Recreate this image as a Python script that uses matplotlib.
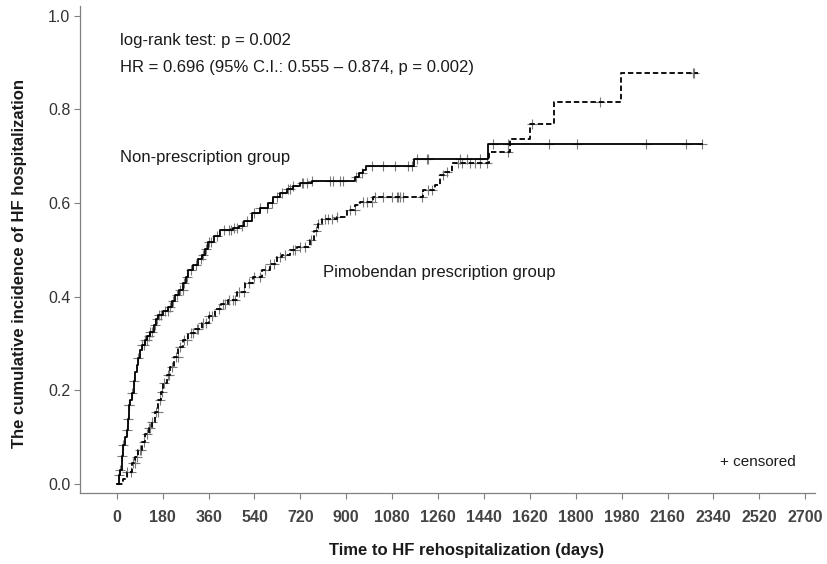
import matplotlib
matplotlib.use("Agg")
import matplotlib.pyplot as plt
import numpy as np

plt.rcParams['font.family'] = ['Liberation Sans', 'DejaVu Sans']

# ---- data ----
non_t = [0, 6, 10, 13, 20, 26, 33, 39, 44, 48, 53, 59, 66, 72, 78, 85, 91, 100, 111, 120, 131,
         145, 155, 163, 180, 203, 215, 229, 245, 261, 270, 281, 300, 318, 333, 345, 359, 380,
         405, 457, 480, 500, 529, 560, 593, 614, 640, 667, 690, 719, 765, 934, 950, 967, 978,
         1165, 1457]
non_v = [0, 0, 0.02, 0.03, 0.06, 0.083, 0.10, 0.115, 0.14, 0.169, 0.18, 0.194, 0.22, 0.24, 0.254,
         0.27, 0.286, 0.297, 0.307, 0.316, 0.325, 0.34, 0.352, 0.361, 0.37, 0.379, 0.392, 0.404,
         0.415, 0.429, 0.443, 0.457, 0.468, 0.48, 0.489, 0.503, 0.517, 0.53, 0.542, 0.546, 0.552,
         0.562, 0.578, 0.59, 0.60, 0.614, 0.622, 0.631, 0.637, 0.642, 0.647, 0.656, 0.664, 0.671,
         0.68, 0.695, 0.726]
non_end = 2296
non_cens = [10, 13, 22, 26, 40, 44, 48, 50, 59, 66, 85, 100, 105, 111, 118, 125, 131, 138, 150,
            158, 165, 172, 190, 200, 210, 222, 235, 250, 258, 265, 275, 290, 310, 330, 340, 350,
            362, 370, 395, 420, 440, 450, 460, 470, 490, 510, 540, 560, 590, 610, 630, 650, 670,
            679, 690, 725, 731, 745, 765, 836, 847, 876, 889, 940, 960, 1000, 1045, 1091, 1143,
            1157, 1176, 1216, 1222, 1346, 1372, 1425, 1477, 1536, 1695, 1804, 2074, 2231, 2296]

pim_t = [0, 13, 25, 40, 59, 72, 85, 98, 111, 125, 137, 150, 163, 173, 183, 196, 209, 225, 242,
         260, 281, 305, 333, 360, 385, 410, 438, 470, 503, 535, 569, 600, 627, 647, 680, 706, 758,
         775, 790, 804, 863, 902, 935, 954, 1006, 1200, 1248, 1268, 1287, 1314, 1460, 1542, 1620,
         1715, 1976]
pim_v = [0, 0, 0.01, 0.025, 0.044, 0.058, 0.073, 0.09, 0.108, 0.12, 0.133, 0.155, 0.179, 0.197,
         0.215, 0.232, 0.25, 0.272, 0.293, 0.308, 0.322, 0.332, 0.343, 0.36, 0.375, 0.384, 0.393,
         0.41, 0.429, 0.443, 0.457, 0.47, 0.485, 0.489, 0.50, 0.507, 0.521, 0.54, 0.555, 0.567,
         0.571, 0.585, 0.595, 0.603, 0.614, 0.628, 0.638, 0.66, 0.667, 0.685, 0.71, 0.738, 0.77,
         0.816, 0.878]
pim_end = 2280
pim_cens = [40, 55, 62, 70, 78, 90, 95, 105, 118, 125, 132, 140, 155, 160, 168, 178, 185, 200,
            205, 215, 232, 240, 250, 265, 275, 290, 300, 315, 320, 340, 350, 362, 375, 400, 415,
            425, 440, 455, 465, 480, 500, 520, 540, 560, 580, 600, 615, 640, 660, 690, 700, 720,
            740, 760, 780, 790, 817, 830, 843, 863, 915, 934, 967, 980, 1000, 1013, 1045, 1078,
            1098, 1104, 1111, 1124, 1196, 1222, 1235, 1281, 1294, 1340, 1353, 1385, 1405, 1425,
            1451, 1536, 1627, 1895, 2258, 2262]

xticks = list(range(0, 2701, 180))
yticks = [0.0, 0.2, 0.4, 0.6, 0.8, 1.0]

# ---- figure ----
fig = plt.figure(figsize=(8.27, 5.64), dpi=100)
ax = fig.add_axes([80/827, 1-493/564, (815-80)/827, (493-6)/564])


def step_value(ts, vs, x):
    idx = np.searchsorted(np.asarray(ts), x, side='right') - 1
    return np.asarray(vs)[np.clip(idx, 0, None)]


# non-prescription (solid)
tx = non_t + [non_end]
vy = non_v + [non_v[-1]]
ax.plot(tx, vy, drawstyle='steps-post', color='black', lw=1.3, zorder=3)
ax.plot(non_cens, step_value(non_t, non_v, non_cens), ls='none', marker='+',
        ms=6.5, mew=0.8, color='#7a7a7a', zorder=2)

# pimobendan (dashed)
tx = pim_t + [pim_end]
vy = pim_v + [pim_v[-1]]
ax.plot(tx, vy, drawstyle='steps-post', color='black', lw=1.3, ls=(0, (3, 1.6)), zorder=3)
ax.plot(pim_cens, step_value(pim_t, pim_v, pim_cens), ls='none', marker='+',
        ms=6.5, mew=0.8, color='#7a7a7a', zorder=2)

ax.set_xlim(-144, 2738)
ax.set_ylim(-0.019, 1.021)
ax.set_xticks(xticks)
ax.set_xticklabels([str(t) for t in xticks], fontweight='bold', color='#444444', fontsize=11.5)
ax.set_yticks(yticks)
ax.set_yticklabels([f"{v:.1f}" for v in yticks], color='#333333', fontsize=11.5)
ax.tick_params(axis='x', length=4.5, width=0.8, color='#808080', pad=8)
ax.tick_params(axis='y', length=4.5, width=0.8, color='#808080', pad=2.5)
for s in ['top', 'right']:
    ax.spines[s].set_visible(False)
for s in ['left', 'bottom']:
    ax.spines[s].set_color('#808080')
    ax.spines[s].set_linewidth(0.9)

tc = '#1a1a1a'
ax.text(13, 0.948, 'log-rank test: p = 0.002', fontsize=12, va='center', ha='left', color=tc)
ax.text(13, 0.890, 'HR = 0.696 (95% C.I.: 0.555 \u2013 0.874, p = 0.002)', fontsize=12,
        va='center', ha='left', color=tc)
ax.text(13, 0.698, 'Non-prescription group', fontsize=12, va='center', ha='left', color=tc)
ax.text(809, 0.451, 'Pimobendan prescription group', fontsize=12, va='center', ha='left', color=tc)
ax.text(2366, 0.047, '+ censored', fontsize=11, va='center', ha='left', color=tc)

fig.text(467/827, 1-551/564, 'Time to HF rehospitalization (days)', fontsize=12,
         fontweight='bold', ha='center', va='center', color=tc)
fig.text(20/827, 1-263/564, 'The cumulative incidence of HF hospitalization', fontsize=12,
         fontweight='bold', ha='center', va='center', rotation=90, color=tc)

fig.savefig('out.png', dpi=100)
